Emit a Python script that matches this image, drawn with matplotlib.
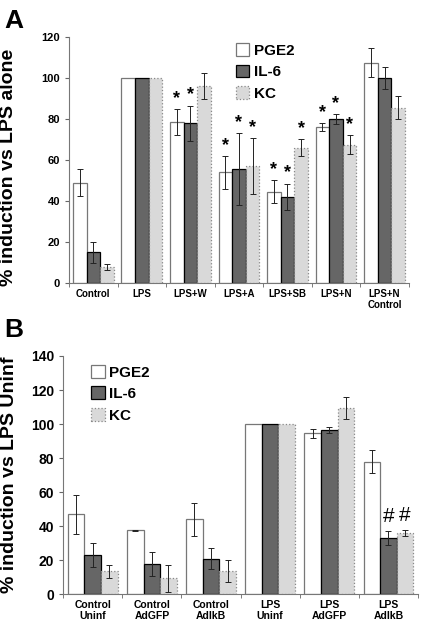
import numpy as np
import matplotlib.pyplot as plt

plt.rcParams['font.family'] = ['Liberation Sans', 'DejaVu Sans']
plt.rcParams['font.weight'] = 'bold'

series = ['PGE2', 'IL-6', 'KC']

# panel A
groups_a = ['Control', 'LPS', 'LPS+W', 'LPS+A', 'LPS+SB', 'LPS+N', 'LPS+N\nControl']
pge2_a = [49, 100, 78.5, 54, 44.5, 76, 107.5]
il6_a = [15, 100, 78, 55.5, 42, 80, 100]
kc_a = [8, 100, 96, 57, 66, 67.5, 85.5]
pge2_a_err = [6.5, 0, 6.5, 8, 5.5, 2, 7]
il6_a_err = [5, 0, 8.5, 17.5, 6.5, 2.5, 5.5]
kc_a_err = [1.5, 0, 6.5, 13.5, 4, 4.5, 5.5]
# marks above bars: (group, series)
stars_a = [(2, 0), (2, 1), (3, 0), (3, 1), (3, 2), (4, 0), (4, 1), (4, 2),
           (5, 0), (5, 1), (5, 2)]

# panel B
groups_b = ['Control\nUninf', 'Control\nAdGFP', 'Control\nAdIkB',
            'LPS\nUninf', 'LPS\nAdGFP', 'LPS\nAdIkB']
pge2_b = [47, 37.5, 44, 100, 94.5, 78]
il6_b = [23, 18, 21, 100, 96.5, 33]
kc_b = [13.5, 9.5, 13.5, 100, 109.5, 36]
pge2_b_err = [11.5, 0.3, 9.5, 0, 2.5, 7]
il6_b_err = [7, 7, 6, 0, 2, 4]
kc_b_err = [4, 8, 6.5, 0, 6.5, 1.5]
hash_b = [(5, 1), (5, 2)]

faces = ['white', '#666666', '#d9d9d9']
edges = ['#777777', 'black', '#888888']
styles = ['-', '-', ':']
w = 0.28


def draw_panel(ax, groups, vals, errs, marks, sym, ymax, step, tick_fs, lab_fs, ylabel):
    x = np.arange(len(groups))
    for i in range(3):
        pos = x + (i - 1) * w
        ax.bar(pos, vals[i], w, color=faces[i], edgecolor=edges[i],
               linewidth=0.9, linestyle=styles[i], label=series[i], zorder=2)
        e = np.array(errs[i])
        m = e > 0
        ax.errorbar(pos[m], np.array(vals[i])[m], yerr=e[m], fmt='none',
                    ecolor='#222222', elinewidth=0.7, capsize=2, capthick=0.7, zorder=3)
    for g, s in marks:
        top = vals[s][g] + errs[s][g]
        if sym == '*':
            ax.text(x[g] + (s - 1) * w, top + 1, sym, ha='center', va='bottom',
                    fontsize=13, fontweight='bold')
        else:
            ax.text(x[g] + (s - 1) * w, top + 3, sym, ha='center', va='bottom',
                    fontsize=15, fontweight='normal')
    ax.set_xlim(-0.5, len(groups) - 0.5)
    ax.set_ylim(0, ymax)
    ax.set_yticks(np.arange(0, ymax + 1, step))
    ax.tick_params(axis='y', labelsize=tick_fs, direction='out', length=3, color='#666666')
    ax.set_xticks(x)
    ax.set_xticklabels(groups, fontsize=lab_fs, linespacing=1.2)
    ax.set_xticks(np.arange(-0.5, len(groups)), minor=True)
    ax.tick_params(axis='x', which='major', length=0, pad=4)
    ax.tick_params(axis='x', which='minor', length=3, color='#666666')
    for sp in ['top', 'right']:
        ax.spines[sp].set_visible(False)
    for sp in ['left', 'bottom']:
        ax.spines[sp].set_color('#777777')
    ax.set_ylabel(ylabel, fontsize=14, fontweight='bold')


fig = plt.figure(figsize=(4.21, 6.23), dpi=100)
ax1 = fig.add_axes([0.164, 0.5457, 0.807, 0.395])
ax2 = fig.add_axes([0.150, 0.046, 0.843, 0.3826])

draw_panel(ax1, groups_a, [pge2_a, il6_a, kc_a], [pge2_a_err, il6_a_err, kc_a_err],
           stars_a, '*', 120, 20, 8, 7, '% induction vs LPS alone')
ax1.legend(loc='upper left', bbox_to_anchor=(0.45, 1.03), frameon=False, fontsize=11,
           handlelength=0.9, handleheight=0.9, handletextpad=0.3, labelspacing=0.45)
ax1.yaxis.set_label_coords(-0.152, 0.47)

draw_panel(ax2, groups_b, [pge2_b, il6_b, kc_b], [pge2_b_err, il6_b_err, kc_b_err],
           hash_b, '#', 140, 20, 10, 7.5, '% induction vs LPS Uninf')
ax2.legend(loc='upper left', bbox_to_anchor=(0.04, 1.02), frameon=False, fontsize=11,
           handlelength=0.9, handleheight=0.9, handletextpad=0.3, labelspacing=0.45)
ax2.yaxis.set_label_coords(-0.128, 0.5)

fig.text(0.01, 0.985, 'A', fontsize=19, fontweight='bold', va='top')
fig.text(0.01, 0.49, 'B', fontsize=19, fontweight='bold', va='top')

fig.savefig('out.png', dpi=100)
